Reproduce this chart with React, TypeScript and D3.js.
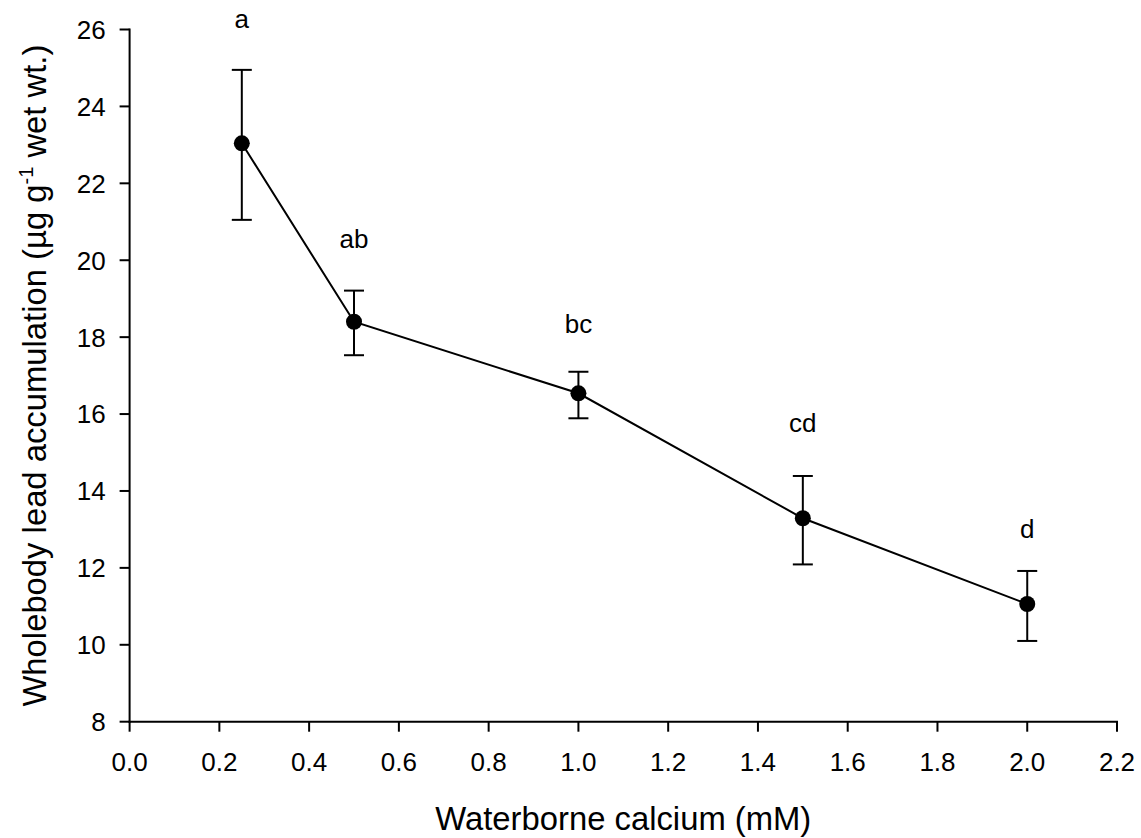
import React from "react";
import * as d3 from "d3";

// Waterborne calcium concentration (mM)
const calcium = [0.25, 0.5, 1.0, 1.5, 2.0];
// Mean wholebody lead accumulation (µg g-1 wet wt.)
const leadMean = [23.04, 18.4, 16.54, 13.29, 11.06];
// Upper and lower ends of the error bars
const errUpper = [24.95, 19.21, 17.1, 14.39, 11.92];
const errLower = [21.05, 17.53, 15.89, 12.09, 10.1];
// Significance group letters and the value at which each sits
const groupLetters = ["a", "ab", "bc", "cd", "d"];
const letterY = [26.03, 20.33, 18.11, 15.54, 12.77];

const xTicks = [0.0, 0.2, 0.4, 0.6, 0.8, 1.0, 1.2, 1.4, 1.6, 1.8, 2.0, 2.2];
const yTicks = [8, 10, 12, 14, 16, 18, 20, 22, 24, 26];

const W = 1141;
const H = 838;
const FONT = "'Liberation Sans', Arial, Helvetica, sans-serif";

export default function App() {
  const x = d3.scaleLinear().domain([0, 2.2]).range([129.6, 1117]);
  const y = d3.scaleLinear().domain([8, 26]).range([721.7, 29.5]);

  const line = d3
    .line<number>()
    .x((_, i) => x(calcium[i]))
    .y((v) => y(v));

  const x0 = x.range()[0];
  const y0 = y.range()[0];
  const capHalf = 10;
  const tickLen = 10;

  return (
    <svg
      width={W}
      height={H}
      style={{ position: "absolute", left: 0, top: 0, display: "block", background: "#fff" }}
      fontFamily={FONT}
    >
      {/* axes */}
      <g stroke="#000" strokeWidth={2} fill="none">
        <line x1={x0} x2={x0} y1={y(26) - 1} y2={y0 + 1} />
        <line x1={x0 - 1} x2={x(2.2) + 1} y1={y0} y2={y0} />
        {yTicks.map((t) => (
          <line key={"yt" + t} x1={x0 - tickLen} x2={x0} y1={y(t)} y2={y(t)} />
        ))}
        {xTicks.map((t) => (
          <line key={"xt" + t} x1={x(t)} x2={x(t)} y1={y0} y2={y0 + tickLen} />
        ))}
      </g>
      {yTicks.map((t) => (
        <text
          key={"yl" + t}
          x={x0 - 24}
          y={y(t)}
          dy="0.36em"
          textAnchor="end"
          fontSize={26}
          fill="#000"
        >
          {t}
        </text>
      ))}
      {xTicks.map((t) => (
        <text
          key={"xl" + t}
          x={x(t)}
          y={y0 + 49}
          textAnchor="middle"
          fontSize={26}
          fill="#000"
        >
          {t.toFixed(1)}
        </text>
      ))}

      {/* axis titles */}
      <text
        x={(x(0) + x(2.2)) / 2}
        y={830}
        textAnchor="middle"
        fontSize={32.8}
        fill="#000"
      >
        Waterborne calcium (mM)
      </text>
      <text
        transform={`translate(46,${(y(8) + y(26)) / 2}) rotate(-90)`}
        textAnchor="middle"
        fontSize={32.8}
        fill="#000"
      >
        Wholebody lead accumulation (µg g
        <tspan fontSize={20} dy={-13}>-1</tspan>
        <tspan dy={13}> wet wt.)</tspan>
      </text>

      {/* error bars */}
      <g stroke="#000" strokeWidth={2}>
        {calcium.map((c, i) => (
          <g key={"eb" + i}>
            <line x1={x(c)} x2={x(c)} y1={y(errUpper[i])} y2={y(errLower[i])} />
            <line x1={x(c) - capHalf} x2={x(c) + capHalf} y1={y(errUpper[i])} y2={y(errUpper[i])} />
            <line x1={x(c) - capHalf} x2={x(c) + capHalf} y1={y(errLower[i])} y2={y(errLower[i])} />
          </g>
        ))}
      </g>

      {/* mean line and markers */}
      <path d={line(leadMean) || ""} fill="none" stroke="#000" strokeWidth={2} />
      {calcium.map((c, i) => (
        <circle key={"pt" + i} cx={x(c)} cy={y(leadMean[i])} r={8} fill="#000" />
      ))}

      {/* group letters */}
      {calcium.map((c, i) => (
        <text
          key={"gl" + i}
          x={x(c)}
          y={y(letterY[i])}
          textAnchor="middle"
          fontSize={26}
          fill="#000"
        >
          {groupLetters[i]}
        </text>
      ))}
    </svg>
  );
}
